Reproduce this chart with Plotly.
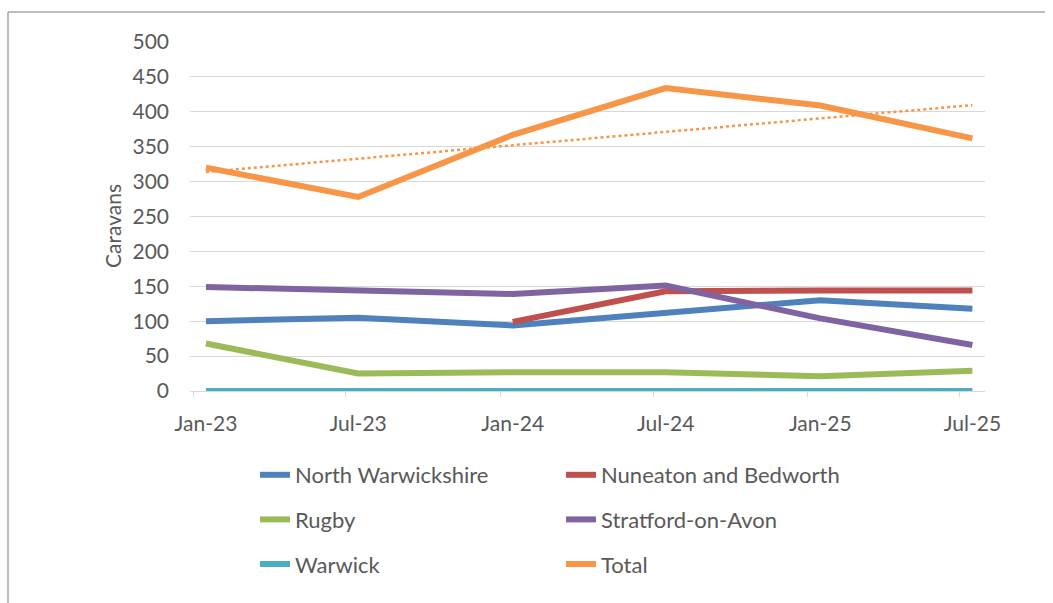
import plotly.graph_objects as go
import numpy as np
import pandas as pd

# ---- data ----
survey_dates = ["2023-01-16", "2023-07-16", "2024-01-16", "2024-07-16", "2025-01-16", "2025-07-16"]
boundary_dates = ["2023-01-01", "2023-07-01", "2024-01-01", "2024-07-01", "2025-01-01", "2025-07-01"]
tick_labels = ["Jan-23", "Jul-23", "Jan-24", "Jul-24", "Jan-25", "Jul-25"]

north_warwickshire = [100, 105, 94, 111, 130, 118]
nuneaton_bedworth = [None, None, 99, 143, 144, 144]
rugby = [68, 25, 27, 27, 21, 29]
stratford = [149, 145, 139, 151, 104, 66]
warwick = [0, 0, 0, 0, 0, 0]
total = [320, 278, 367, 434, 409, 362]

series_names = ["North Warwickshire", "Nuneaton and Bedworth", "Rugby",
                "Stratford-on-Avon", "Warwick", "Total"]
series_values = [north_warwickshire, nuneaton_bedworth, rugby, stratford, warwick, total]
series_colors = ["#4F81BD", "#C0504D", "#9BBB59", "#8064A2", "#4BACC6", "#F79646"]
legend_ids = ["legend", "legend2", "legend", "legend2", "legend", "legend2"]

FONT = "Lato"
TXT = "#595959"

# ---- geometry helpers (pixel -> paper) ----
W, H = 1053, 603
ML, MR, MT, MB = 190, 68, 42, 212
PW = W - ML - MR
PH = H - MT - MB


def px_x(px):
    return (px - ML) / PW


def px_y(py):
    return (H - MB - py) / PH


fig = go.Figure()

dates = pd.to_datetime(survey_dates)
for name, vals, col, lg in zip(series_names, series_values, series_colors, legend_ids):
    fig.add_trace(go.Scatter(
        x=dates, y=vals, name=name, mode="lines",
        line=dict(color=col, width=6),
        legend=lg, legendgroup=name,
        connectgaps=False,
    ))

# linear trendline of total (like Excel's linear trendline)
days = (dates - dates[0]).days.values.astype(float)
slope, intercept = np.polyfit(days, np.array(total, dtype=float), 1)
trend = slope * days + intercept
fig.add_trace(go.Scatter(
    x=dates, y=trend, mode="lines", showlegend=False,
    line=dict(color="#F79646", width=2.5, dash="dot"),
    hoverinfo="skip",
))

fig.update_layout(
    width=W, height=H,
    margin=dict(l=ML, r=MR, t=MT, b=MB),
    paper_bgcolor="white", plot_bgcolor="white",
    font=dict(family=FONT, size=21, color=TXT),
    xaxis=dict(
        type="date",
        range=["2022-12-28", "2025-07-31"],
        tickvals=survey_dates, ticktext=tick_labels,
        ticks="",
        minor=dict(tickvals=boundary_dates, ticks="outside", ticklen=5,
                   tickcolor="#D9D9D9", showgrid=False),
        showline=True, linecolor="#D9D9D9", linewidth=1,
        showgrid=False, zeroline=False,
        tickfont=dict(family=FONT, size=21, color=TXT),
        ticklabelstandoff=14,
    ),
    yaxis=dict(
        range=[0, 500], dtick=50,
        showgrid=True, gridcolor="#D9D9D9", gridwidth=1,
        zeroline=False, showline=False, ticks="",
        tickfont=dict(family=FONT, size=21, color=TXT),
        ticklabelstandoff=20,
    ),
    legend=dict(
        x=px_x(255), y=px_y(454), xanchor="left", yanchor="top",
        orientation="v", tracegroupgap=13,
        font=dict(family=FONT, size=22, color=TXT),
        bgcolor="rgba(0,0,0,0)",
    ),
    legend2=dict(
        x=px_x(561), y=px_y(454), xanchor="left", yanchor="top",
        orientation="v", tracegroupgap=13,
        font=dict(family=FONT, size=22, color=TXT),
        bgcolor="rgba(0,0,0,0)",
    ),
    showlegend=True,
)

# y-axis title
fig.add_annotation(
    text="Caravans", xref="paper", yref="paper",
    x=px_x(112), y=px_y(226), xanchor="center", yanchor="middle",
    textangle=-90, showarrow=False,
    font=dict(family=FONT, size=21, color=TXT),
)

# frame lines of the chart area (top and left edges)
fig.add_shape(type="line", xref="paper", yref="paper",
              x0=px_x(8), x1=px_x(1045), y0=px_y(12), y1=px_y(12),
              line=dict(color="#A6A6A6", width=1.5))
fig.add_shape(type="line", xref="paper", yref="paper",
              x0=px_x(8), x1=px_x(8), y0=px_y(12), y1=px_y(603),
              line=dict(color="#A6A6A6", width=1.5))

fig.write_html("out.html")
